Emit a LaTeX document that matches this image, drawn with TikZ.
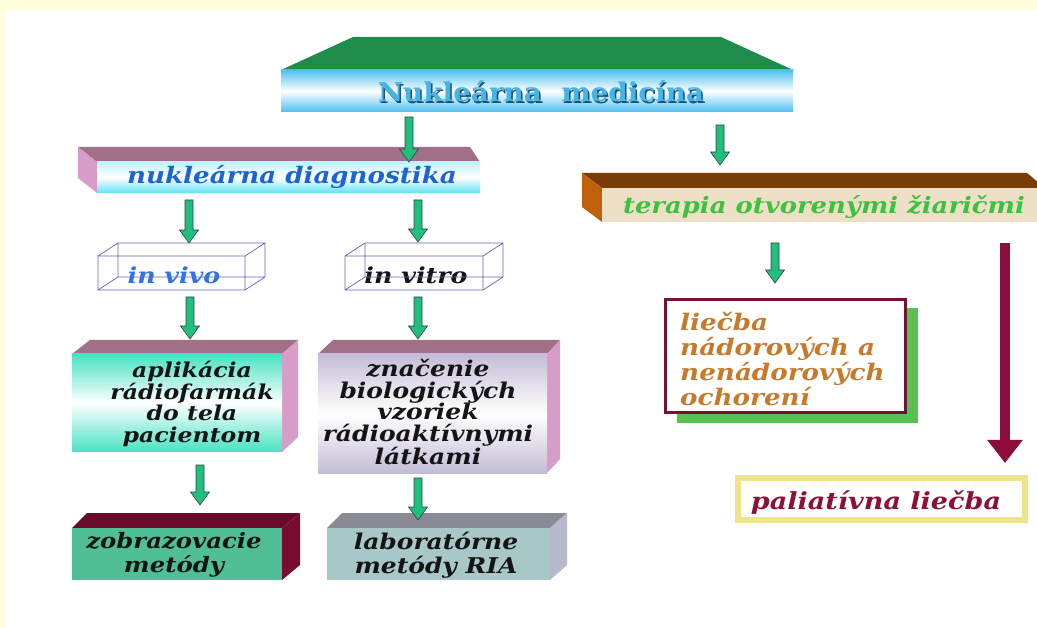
\documentclass[tikz,border=0pt]{standalone}
\usepackage{fontspec}
\setmainfont{DejaVu Serif}
\newfontfamily\bki[FakeStretch=1.15]{DejaVu Serif}
\newfontfamily\ttlf[FakeStretch=1.07]{DejaVu Serif}
\usetikzlibrary{calc,arrows.meta}
\definecolor{bgy}{HTML}{FFFFE0}
\definecolor{topgreen}{HTML}{1E8C4A}
\definecolor{tblue}{HTML}{4EC0F0}
\definecolor{titleblue}{HTML}{48B4E4}
\definecolor{titleshadow}{HTML}{1A4F7A}
\definecolor{mauve}{HTML}{A07088}
\definecolor{pinkside}{HTML}{D89CC8}
\definecolor{diagcyan}{HTML}{62E2F4}
\definecolor{diagtxt}{HTML}{1F62D2}
\definecolor{browntop}{HTML}{7A3C05}
\definecolor{brownside}{HTML}{C0600A}
\definecolor{beige}{HTML}{EDE0C6}
\definecolor{teragreen}{HTML}{3CC23C}
\definecolor{wirec}{HTML}{6464C0}
\definecolor{vivotxt}{HTML}{2F74E4}
\definecolor{aqua}{HTML}{46E2C2}
\definecolor{lav}{HTML}{C4BCD6}
\definecolor{maroontop}{HTML}{6A0A2A}
\definecolor{maroonside}{HTML}{7A0C32}
\definecolor{tealfront}{HTML}{50BE96}
\definecolor{greytop}{HTML}{8A8A96}
\definecolor{greyside}{HTML}{B8B8CC}
\definecolor{greyfront}{HTML}{A8C8C8}
\definecolor{agreen}{HTML}{1FBF7E}
\definecolor{liecbord}{HTML}{7A1030}
\definecolor{shadgreen}{HTML}{5AC050}
\definecolor{liectxt}{HTML}{C87A2A}
\definecolor{bigarrow}{HTML}{8C0C3C}
\definecolor{palbord}{HTML}{EEE58A}
\definecolor{paltxt}{HTML}{8C1038}
\newcommand\bif[2]{\fontsize{#1}{#2}\selectfont\bki\bfseries\itshape}
\tikzset{
  lbl/.style={font=\bif{21}{21.7}, align=center, inner sep=0pt, text=black!92},
  ttl/.style={font=\fontsize{26}{26}\selectfont\ttlf\bfseries, anchor=base, inner sep=0pt},
  arrline/.style={fill=agreen, draw=black!75, line width=0.6pt},
  wire/.style={draw=wirec, line width=0.7pt},
}
\newcommand\garrow[2]{\filldraw[arrline] let \p1=(#1), \p2=(#2) in
  (\x1-4pt,\y1) -- (\x1+4pt,\y1) -- (\x1+4pt,\y2+13pt) -- (\x1+9.5pt,\y2+13pt) --
  (\x1,\y2) -- (\x1-9.5pt,\y2+13pt) -- (\x1-4pt,\y2+13pt) -- cycle;}
\begin{document}
\begin{tikzpicture}[x=1pt,y=-1pt]
\useasboundingbox (0,0) rectangle (1037,628);
\fill[bgy] (0,0) rectangle (1037,628);
\fill[white] (6,11) rectangle (1037,628);

% title box
\fill[topgreen] (353,37) -- (721,37) -- (793,70) -- (281,70) -- cycle;
\shade[top color=tblue, bottom color=tblue, middle color=white] (281,70) rectangle (793,112);
\node[ttl, text=titleshadow] at (542.5,103.5) {Nukleárna\ \ medicína};
\node[ttl, text=titleblue] (nm) at (541,102) {Nukleárna\ \ medicína};

% nuklearna diagnostika
\fill[mauve] (78,147) -- (470,147) -- (480,162) -- (97,162) -- cycle;
\fill[pinkside] (78,147) -- (97,162) -- (97,193) -- (78,178) -- cycle;
\shade[top color=diagcyan!40, bottom color=diagcyan, middle color=white] (97,162) rectangle (480,193);
\node[lbl, font=\bif{22.7}{23}, text=diagtxt, anchor=base] (nd) at (292,184) {nukleárna diagnostika};

% terapia
\fill[browntop] (582,173) -- (1027,173) -- (1045,188) -- (602,188) -- cycle;
\fill[brownside] (582,173) -- (602,188) -- (602,222) -- (582,207) -- cycle;
\fill[beige] (602,188) rectangle (1040,222);
\node[lbl, font=\bif{22.5}{23}, text=teragreen, anchor=base] (ter) at (824,214) {terapia otvorenými žiaričmi};

% in vivo
\node[lbl, font=\bif{22}{22}, text=vivotxt, anchor=base] (iv) at (174,284) {in vivo};
\draw[wire] (98,256) rectangle (245,290) (118,243) rectangle (265,277)
  (98,256) -- (118,243) (245,256) -- (265,243) (245,290) -- (265,277) (98,290) -- (118,277);
% in vitro
\node[lbl, font=\bif{22}{22}, anchor=base] (ivt) at (416,284) {in vitro};
\draw[wire] (345,256) rectangle (483,290) (365,243) rectangle (503,277)
  (345,256) -- (365,243) (483,256) -- (503,243) (483,290) -- (503,277) (345,290) -- (365,277);

% aplikacia
\fill[mauve] (90,340) -- (298,340) -- (282,354) -- (72,354) -- cycle;
\fill[pinkside] (282,354) -- (298,340) -- (298,437) -- (282,452) -- cycle;
\shade[top color=aqua, bottom color=aqua, middle color=white] (72,354) rectangle (282,452);
\node[lbl, font=\bif{20.5}{21.7}] (apl) at (192,404) {aplikácia\\rádiofarmák\\do tela\\pacientom};

% znacenie
\fill[mauve] (333,340) -- (560,340) -- (547,354) -- (318,354) -- cycle;
\fill[pinkside] (547,354) -- (560,340) -- (560,459) -- (547,473) -- cycle;
\shade[top color=lav, bottom color=lav, middle color=white] (318,354) rectangle (547,473);
\node[lbl, font=\bif{21.7}{21.7}] (zn) at (428,412) {značenie\\biologických\\vzoriek\\rádioaktívnymi\\látkami};

% zobrazovacie
\fill[maroontop] (87,513) -- (300,513) -- (282,528) -- (72,528) -- cycle;
\fill[maroonside] (282,528) -- (300,513) -- (300,565) -- (282,580) -- cycle;
\fill[tealfront] (72,528) rectangle (282,580);
\node[lbl, font=\bif{21.2}{24}] (zo) at (174,555) {zobrazovacie\\metódy};

% laboratorne
\fill[greytop] (342,513) -- (567,513) -- (550,528) -- (327,528) -- cycle;
\fill[greyside] (550,528) -- (567,513) -- (567,565) -- (550,580) -- cycle;
\fill[greyfront] (327,528) rectangle (550,580);
\node[lbl, font=\bif{21.7}{24}] (lab) at (436,555) {laboratórne\\metódy RIA};

% liecba
\fill[shadgreen] (677,308) rectangle (918,423);
\draw[liecbord, line width=3pt, fill=white] (665,300) rectangle (905,413);
\node[lbl, align=left, anchor=west, text=liectxt, font=\bif{22.8}{25.3}] (lie) at (680,359) {liečba\\nádorových a\\nenádorových\\ochorení};

% paliativna
\draw[palbord, line width=6pt, fill=white] (738,478) rectangle (1025,520);
\node[lbl, font=\bif{23.5}{24}, text=paltxt, anchor=base] (pal) at (876,509) {paliatívna liečba};

% arrows
\coordinate (g1s) at (409,117); \coordinate (g1e) at (409,162);
\coordinate (g2s) at (720,125); \coordinate (g2e) at (720,165);
\coordinate (g3s) at (189,200); \coordinate (g3e) at (189,243);
\coordinate (g4s) at (418,200); \coordinate (g4e) at (418,242);
\coordinate (g5s) at (190,297); \coordinate (g5e) at (190,339);
\coordinate (g6s) at (418,297); \coordinate (g6e) at (418,339);
\coordinate (g7s) at (200,465); \coordinate (g7e) at (200,505);
\coordinate (g8s) at (418,478); \coordinate (g8e) at (418,520);
\coordinate (g9s) at (775,243); \coordinate (g9e) at (775,283);
\garrow{g1s}{g1e}
\garrow{g2s}{g2e}
\garrow{g3s}{g3e}
\garrow{g4s}{g4e}
\garrow{g5s}{g5e}
\garrow{g6s}{g6e}
\garrow{g7s}{g7e}
\garrow{g8s}{g8e}
\garrow{g9s}{g9e}
\coordinate (bs) at (1005,243); \coordinate (be) at (1005,463);
\draw[bigarrow, line width=10pt, -{Triangle[width=34pt,length=23pt]}] (bs) -- (be);
\end{tikzpicture}
\end{document}
